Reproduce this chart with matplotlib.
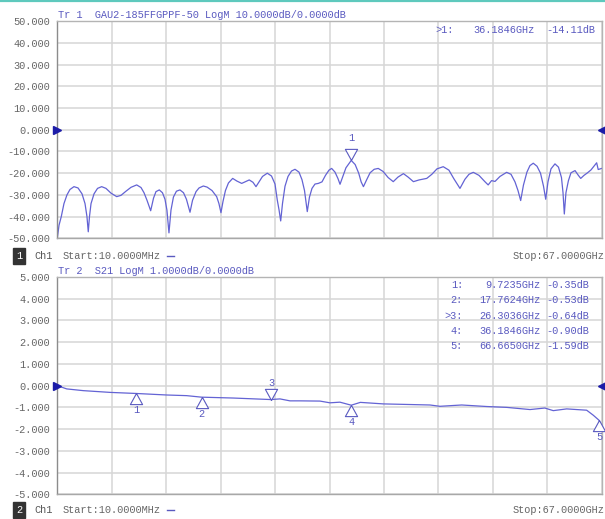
import matplotlib
matplotlib.use("Agg")
import matplotlib.pyplot as plt
import numpy as np

# Tr 1: GAU2-185FFGPPF-50 LogM (GHz, dB)
s11_freq = [0.01, 0.22, 0.5, 0.83, 1.2, 1.57, 2.06, 2.56, 3.05, 3.42, 3.66, 3.82, 3.97, 4.16, 4.53, 4.96,
            5.47, 6.0, 6.62, 7.32, 7.85, 8.46, 9.08, 9.78, 10.31, 10.68, 11.05, 11.5, 11.85, 12.15, 12.56,
            12.95, 13.26, 13.5, 13.75, 14.0, 14.3, 14.67, 15.1, 15.54, 15.9, 16.34, 16.65, 17.08, 17.45,
            17.98, 18.44, 19.05, 19.62, 19.9, 20.15, 20.4, 20.7, 21.07, 21.59, 22.1, 22.7, 23.1, 23.63,
            24.09, 24.46, 24.83, 25.26, 25.85, 26.37, 26.8, 27.08, 27.3, 27.5, 27.72, 28.03, 28.4, 28.83,
            29.26, 29.75, 30.12, 30.43, 30.77, 31.04, 31.35, 31.72, 32.13, 32.58, 33.01, 33.44, 33.77,
            34.18, 34.55, 34.8, 35.1, 35.53, 36.18, 36.66, 37.1, 37.4, 37.68, 38.08, 38.5, 39.0, 39.5,
            40.1, 40.72, 41.35, 41.93, 42.6, 43.18, 43.83, 44.53, 45.47, 46.1, 46.73, 47.5, 48.2, 48.8,
            49.56, 50.17, 50.67, 51.2, 51.9, 52.6, 53.03, 53.45, 53.87, 54.48, 55.3, 55.84, 56.33, 56.7,
            57.03, 57.37, 57.8, 58.17, 58.58, 59.04, 59.47, 59.84, 60.11, 60.39, 60.76, 61.25, 61.68,
            62.05, 62.24, 62.4, 62.6, 62.9, 63.22, 63.72, 64.09, 64.42, 64.82, 65.19, 65.68, 66.38,
            66.57, 67.0]
s11_db = [-50.0, -44.0, -40.0, -34.0, -30.0, -27.5, -26.2, -26.8, -29.5, -34.0, -40.0, -47.0, -40.0, -34.0,
          -29.5, -27.0, -26.2, -27.0, -29.2, -30.8, -30.2, -28.3, -26.5, -25.4, -26.6, -29.0, -32.5, -37.3,
          -31.5, -28.5, -27.7, -29.0, -32.0, -37.0, -47.5, -37.0, -31.0, -28.3, -27.7, -29.0, -32.0, -38.0,
          -32.5, -28.5, -26.8, -25.9, -26.4, -28.0, -30.8, -34.0, -38.2, -33.0, -28.0, -24.5, -22.4, -23.6,
          -24.7, -24.0, -23.1, -24.2, -26.2, -24.0, -21.5, -20.0, -21.3, -25.0, -32.4, -37.0, -42.0, -34.0,
          -26.0, -21.5, -19.0, -18.2, -19.5, -23.0, -28.0, -37.7, -31.0, -27.0, -25.0, -24.7, -24.0, -21.0,
          -18.6, -17.8, -19.5, -22.5, -25.1, -22.0, -17.5, -14.11, -16.0, -20.0, -24.0, -26.2, -23.0, -19.8,
          -18.2, -17.8, -19.2, -22.0, -23.9, -21.8, -20.2, -21.8, -23.9, -23.1, -22.4, -20.5, -18.0, -17.0,
          -18.6, -22.5, -27.0, -22.8, -20.5, -19.6, -21.0, -23.8, -25.4, -23.4, -23.8, -21.5, -19.6, -20.5,
          -24.0, -28.0, -32.6, -25.5, -19.5, -16.5, -15.4, -16.8, -20.0, -26.0, -32.0, -24.0, -18.0, -15.7,
          -17.2, -22.0, -29.0, -38.8, -29.0, -23.5, -19.8, -18.8, -20.8, -22.4, -21.0, -20.0, -18.5, -15.2,
          -18.3, -17.8]

# Tr 2: S21 LogM (GHz, dB)
s21_freq = [0.01, 1.17, 3.21, 6.5, 9.72, 13.47, 15.93, 17.76, 21.67, 26.3, 27.41, 28.64, 29.87, 32.33,
            33.56, 34.79, 36.18, 37.3, 40.12, 45.87, 47.1, 49.77, 52.85, 55.31, 58.18, 60.0, 61.04,
            62.69, 65.15, 65.96, 66.665, 67.0]
s21_db = [0.0, -0.15, -0.23, -0.31, -0.36, -0.43, -0.46, -0.53, -0.57, -0.64, -0.61, -0.70, -0.70, -0.71,
          -0.79, -0.76, -0.90, -0.77, -0.84, -0.89, -0.95, -0.89, -0.96, -1.0, -1.1, -1.03, -1.15, -1.07,
          -1.13, -1.36, -1.59, -1.92]

top_mk_freq = [36.1846]
top_mk_db = [-14.11]
bot_mk_freq = [9.7235, 17.7624, 26.3036, 36.1846, 66.6650]
bot_mk_db = [-0.35, -0.53, -0.64, -0.90, -1.59]
bot_mk_up = [True, True, False, True, True]

W, H = 605, 519
trace_col = '#6363d4'
text_blue = '#5a5ac0'
grey_txt = '#666666'
mono = 'Liberation Mono'
fs = 7.4


def fx(x):
    return x / W


def fy(y):
    return 1 - y / H


fig = plt.figure(figsize=(W / 100, H / 100), dpi=100)
fig.patch.set_facecolor('white')

# teal strip at the very top
fig.add_artist(plt.Line2D([0, 1], [fy(0.8), fy(0.8)], color='#5ec9bd', lw=1.6))

ax1 = fig.add_axes([fx(57.3), fy(238.3), fx(601.7) - fx(57.3), fy(21.3) - fy(238.3)])
ax2 = fig.add_axes([fx(57.3), fy(494.3), fx(601.7) - fx(57.3), fy(277) - fy(494.3)])

down_tri = [(0, 0), (-0.55, 1), (0.55, 1), (0, 0)]
up_tri = [(0, 0), (-0.55, -1), (0.55, -1), (0, 0)]

for ax, ylo, yhi, step in [(ax1, -50, 50, 10), (ax2, -5, 5, 1)]:
    ax.set_xlim(0.01, 67.0)
    ax.set_ylim(ylo, yhi)
    ax.set_xticks(np.linspace(0.01, 67.0, 11))
    ax.set_xticklabels([])
    yt = np.arange(ylo, yhi + step / 2, step)
    ax.set_yticks(yt)
    ax.set_yticklabels(['%.3f' % v for v in yt], fontfamily=mono, fontsize=fs, color=grey_txt)
    ax.tick_params(length=0, pad=5)
    ax.grid(True, color='#d6d6d6', lw=1.1)
    for s in ax.spines.values():
        s.set_color('#b4b4b4')
        s.set_linewidth(1.0)
    ax.spines['left'].set_color('#8c8c8c')
    ax.spines['bottom'].set_color('#a8a8a8')
    # reference level arrows
    ax.plot([0.01], [0], marker='>', color='#1c1ca8', ms=6, clip_on=False, zorder=5)
    ax.plot([67.0], [0], marker='<', color='#1c1ca8', ms=6, clip_on=False, zorder=5)

ax1.plot(s11_freq, s11_db, color=trace_col, lw=0.9)
ax2.plot(s21_freq, s21_db, color=trace_col, lw=0.9)

# markers
for f, d in zip(top_mk_freq, top_mk_db):
    ax1.plot([f], [d], marker=down_tri, ms=16, mfc='white', mec=text_blue, mew=0.8, zorder=4)
    ax1.annotate('1', (f, d), xytext=(0, 12.5), textcoords='offset points', ha='center', va='bottom',
                 fontfamily=mono, fontsize=fs, color=text_blue)

for i, (f, d, up) in enumerate(zip(bot_mk_freq, bot_mk_db, bot_mk_up)):
    if up:
        ax2.plot([f], [d], marker=up_tri, ms=16, mfc='white', mec=text_blue, mew=0.8, zorder=4, clip_on=False)
        ax2.annotate(str(i + 1), (f, d), xytext=(0, -8.5), textcoords='offset points', ha='center',
                     va='top', fontfamily=mono, fontsize=fs, color=text_blue)
    else:
        ax2.plot([f], [d], marker=down_tri, ms=16, mfc='white', mec=text_blue, mew=0.8, zorder=4)
        ax2.annotate(str(i + 1), (f, d), xytext=(0, 8.5), textcoords='offset points', ha='center',
                     va='bottom', fontfamily=mono, fontsize=fs, color=text_blue)

# titles
fig.text(fx(58), fy(15), 'Tr 1  GAU2-185FFGPPF-50 LogM 10.0000dB/0.0000dB', ha='left', va='center',
         fontfamily=mono, fontsize=fs, color=text_blue)
fig.text(fx(58), fy(270.5), 'Tr 2  S21 LogM 1.0000dB/0.0000dB', ha='left', va='center',
         fontfamily=mono, fontsize=fs, color=text_blue)

# marker tables
fig.text(fx(435), fy(30), '>1:', ha='left', va='center', fontfamily=mono, fontsize=fs, color=text_blue)
fig.text(fx(535), fy(30), '36.1846GHz', ha='right', va='center', fontfamily=mono, fontsize=fs, color=text_blue)
fig.text(fx(546.7), fy(30), '-14.11dB', ha='left', va='center', fontfamily=mono, fontsize=fs, color=text_blue)

row_y = [285, 300.3, 315.7, 331, 346.3]
for i, (f, d) in enumerate(zip(bot_mk_freq, bot_mk_db)):
    lab = ('>' if i == 2 else '') + '%d:' % (i + 1)
    fig.text(fx(463), fy(row_y[i]), lab, ha='right', va='center', fontfamily=mono, fontsize=fs, color=text_blue)
    fig.text(fx(540.7), fy(row_y[i]), '%.4fGHz' % f, ha='right', va='center', fontfamily=mono,
             fontsize=fs, color=text_blue)
    fig.text(fx(546.7), fy(row_y[i]), '%.2fdB' % d, ha='left', va='center', fontfamily=mono,
             fontsize=fs, color=text_blue)

# channel footers
for n, yy in [('1', 256), ('2', 510)]:
    fig.text(fx(19), fy(yy), n, ha='center', va='center', fontfamily=mono, fontsize=fs, color='white',
             bbox=dict(boxstyle='square,pad=0.25', fc='#333333', ec='#333333'))
    fig.text(fx(34), fy(yy), 'Ch1', ha='left', va='center', fontfamily=mono, fontsize=fs, color='#555555')
    fig.text(fx(63), fy(yy), 'Start:10.0000MHz', ha='left', va='center', fontfamily=mono, fontsize=fs,
             color=grey_txt)
    fig.add_artist(plt.Line2D([fx(166.5), fx(174)], [fy(yy), fy(yy)], color=text_blue, lw=1.0))
    fig.text(fx(604), fy(yy), 'Stop:67.0000GHz', ha='right', va='center', fontfamily=mono, fontsize=fs,
             color=grey_txt)

fig.savefig('out.png', dpi=100)
